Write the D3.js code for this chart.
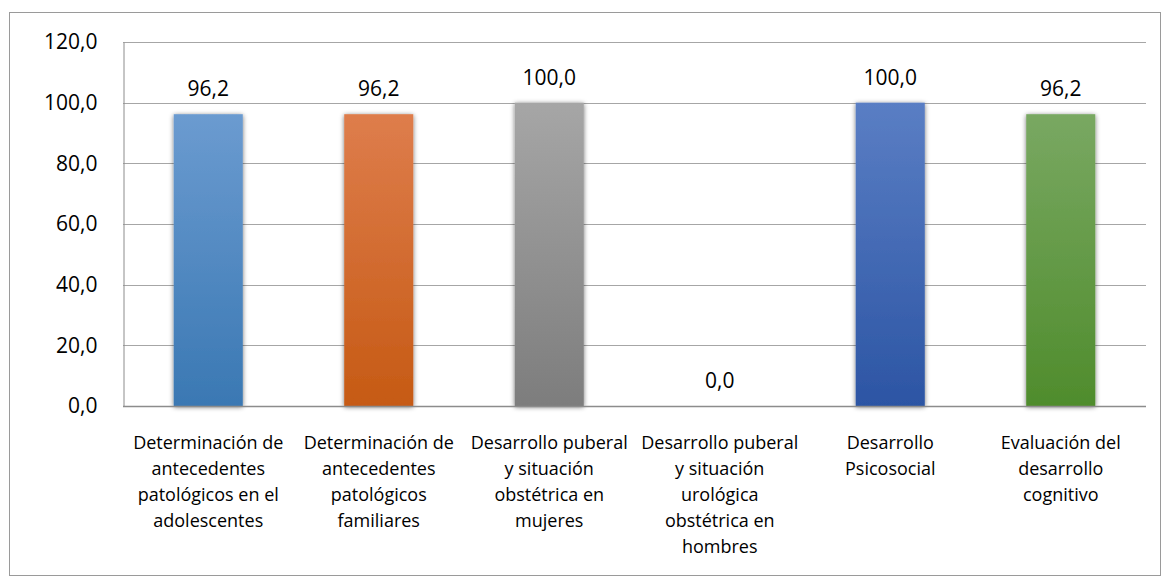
<!DOCTYPE html>
<html><head><meta charset="utf-8">
<script src="https://cdn.jsdelivr.net/npm/d3@7"></script>
<style>body{margin:0;background:#fff;}svg{display:block;}</style>
</head><body>
<script>
const categories = [
  ["Determinación de","antecedentes","patológicos en el","adolescentes"],
  ["Determinación de","antecedentes","patológicos","familiares"],
  ["Desarrollo puberal","y situación","obstétrica en","mujeres"],
  ["Desarrollo puberal","y situación","urológica","obstétrica en","hombres"],
  ["Desarrollo","Psicosocial"],
  ["Evaluación del","desarrollo","cognitivo"]
];
const values = [96.2, 96.2, 100.0, 0.0, 100.0, 96.2];
const yTicks = [0, 20, 40, 60, 80, 100, 120];
const colorsTop = ["#6b9bd0","#de7d4c","#a6a6a6","#999999","#5a7ec4","#79a862"];
const colorsBottom = ["#3a78b3","#c65a14","#7d7d7d","#777777","#2c55a4","#4f8c2c"];

(function(){
const W = 1165, H = 578;
const svg = d3.select("body").append("svg").attr("width", W).attr("height", H);
const fmt = v => v.toFixed(1).replace(".", ",");
const font = "'Open Sans', Lato, sans-serif";

svg.append("rect").attr("x", 9.5).attr("y", 12.5).attr("width", 1151).attr("height", 563)
  .attr("fill", "#fff").attr("stroke", "#9a9a9a").attr("stroke-width", 1);

const mL = 123, mR = 1146, mT = 42, mB = 406;
const x = d3.scaleBand().domain(d3.range(categories.length)).range([mL, mR]).paddingInner(0.595).paddingOuter(0.2975);
const y = d3.scaleLinear().domain([0, 120]).range([mB, mT]);

const defs = svg.append("defs");
values.forEach((v, i) => {
  const g = defs.append("linearGradient").attr("id", "g" + i).attr("x1", 0).attr("y1", 0).attr("x2", 0).attr("y2", 1);
  g.append("stop").attr("offset", "0%").attr("stop-color", colorsTop[i]);
  g.append("stop").attr("offset", "100%").attr("stop-color", colorsBottom[i]);
});
const f = defs.append("filter").attr("id", "sh").attr("x", "-30%").attr("y", "-10%").attr("width", "160%").attr("height", "120%");
f.append("feGaussianBlur").attr("in", "SourceAlpha").attr("stdDeviation", 2.5).attr("result", "b");
f.append("feOffset").attr("in", "b").attr("dx", 0).attr("dy", 1).attr("result", "o");
f.append("feComponentTransfer").attr("in", "o").attr("result", "o2")
  .append("feFuncA").attr("type", "linear").attr("slope", 0.55);
const fm = f.append("feMerge");
fm.append("feMergeNode").attr("in", "o2");
fm.append("feMergeNode").attr("in", "SourceGraphic");

svg.append("g").selectAll("line").data(yTicks.filter(t => t > 0)).join("line")
  .attr("x1", mL).attr("x2", mR).attr("y1", d => Math.round(y(d)) + 0.5).attr("y2", d => Math.round(y(d)) + 0.5)
  .attr("stroke", "#a6a6a6").attr("stroke-width", 1);

const yAxis = svg.append("g").attr("transform", `translate(${mL + 0.5},0)`)
  .call(d3.axisLeft(y).tickValues(yTicks).tickFormat(fmt).tickSize(0).tickPadding(26));
yAxis.select(".domain").attr("stroke", "#8c8c8c");
yAxis.selectAll("text").attr("font-family", font).attr("font-size", 21).attr("fill", "#000");

svg.append("g").selectAll("rect").data(values).join("rect")
  .attr("x", (d, i) => x(i)).attr("width", x.bandwidth())
  .attr("y", d => y(d)).attr("height", d => y(0) - y(d))
  .attr("fill", (d, i) => `url(#g${i})`)
  .attr("filter", "url(#sh)");

svg.append("line").attr("x1", mL).attr("x2", mR).attr("y1", mB + 0.5).attr("y2", mB + 0.5)
  .attr("stroke", "#8c8c8c").attr("stroke-width", 1.5);

svg.append("g").selectAll("text").data(values).join("text")
  .attr("x", (d, i) => x(i) + x.bandwidth() / 2).attr("y", d => y(d) - 18)
  .attr("text-anchor", "middle").attr("font-family", font).attr("font-size", 21).attr("fill", "#000")
  .text(fmt);

const cl = svg.append("g").selectAll("text").data(categories).join("text")
  .attr("text-anchor", "middle").attr("font-family", font).attr("font-size", 18).attr("fill", "#000");
cl.each(function(lines, i) {
  d3.select(this).selectAll("tspan").data(lines).join("tspan")
    .attr("x", x(i) + x.bandwidth() / 2).attr("y", (d, j) => 449 + j * 26).text(d => d);
});
})();
</script>
</body></html>
